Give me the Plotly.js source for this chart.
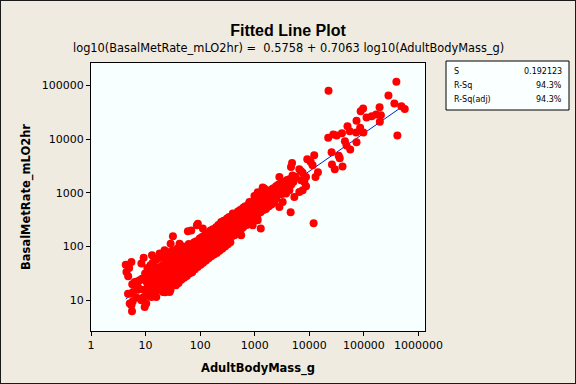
<!DOCTYPE html>
<html><head><meta charset="utf-8">
<script src="https://cdn.plot.ly/plotly-3.0.1.min.js"></script>
<style>
html,body{margin:0;padding:0;background:#F0EBE1;}
#wrap{position:relative;width:576px;height:384px;}
#frame{position:absolute;left:0;top:0;width:576px;height:384px;box-sizing:border-box;border:1px solid #1a1a1a;pointer-events:none;}
</style>
</head><body>
<div id="wrap"><div id="chart" style="width:576px;height:384px;"></div><div id="frame"></div></div>
<script>
// Adult body mass (g) and basal metabolic rate (mL O2 / hr)
const adultBodyMass_g = [
  394000, 22500, 282000, 362000, 487000, 561000, 194000, 97000, 87300, 73300,
  112000, 139000, 168000, 205000, 196000, 411000, 50100, 55000, 72300, 85500,
  98000, 22200, 27500, 31800, 39600, 45000, 48100, 73300, 56200, 25600,
  34600, 36100, 12300, 9180, 10600, 11500, 26000, 29300, 40600, 14400,
  13000, 4830, 4620, 6560, 7550, 8710, 4550, 12000, 1290, 918,
  8710, 7550, 6560, 2830, 3250, 3750, 7050, 5320, 1500, 1220,
  1730, 988, 800, 649, 2290, 3040, 3750, 2460, 3250, 2830,
  1130, 604, 745, 918, 1130, 396, 345, 457, 525, 243,
  260, 90.8, 68.7, 112, 31.7, 59.6, 171, 226, 425, 564,
  149, 112, 79, 4.33, 5.50, 4.46, 9.23, 8.38, 13.1, 15.7,
  87.1, 28.8, 42.0, 22.3, 18.1, 6.32, 7.26, 5.89, 4.77, 5.12,
  5.64, 27.6, 26.8, 8.38, 10.3, 9.63, 15.7, 13.7, 604, 800,
  1060, 396, 604, 149, 97.5, 64.0, 48.3, 7.80, 12.8, 11.9,
  15.7, 20.8, 11.1, 10.3, 5.50, 12.8, 1610, 4310, 8110, 1400,
  5.0, 4.8, 5.7, 5.5, 5.8, 7.0, 7.2, 6.9,
  8.6, 9.2, 8.9,
  9.8, 10.3, 9.9, 10.2,
  10.8, 11.6, 11.0, 11.5,
  12.3, 12.9, 12.5, 12.8,
  13.5, 14.6, 14.0, 14.8, 13.7,
  15.5, 16.2, 15.7, 16.0, 15.3,
  17.2, 18.5, 17.6, 18.2, 17.0,
  19.6, 20.5, 19.8, 20.3, 19.4,
  21.5, 23.2, 22.0, 23.0, 21.8, 22.8,
  24.6, 25.8, 24.9, 25.5, 24.4, 25.9,
  27.0, 29.1, 28.0, 29.5, 27.5, 28.6,
  31.0, 32.4, 31.3, 32.2, 30.8, 32.0,
  34.0, 36.8, 35.2, 37.0, 34.5, 36.0,
  39.0, 40.8, 39.5, 40.5, 38.8, 40.2,
  43.0, 46.5, 44.0, 46.0, 43.5, 45.2,
  49.0, 51.5, 49.7, 51.0, 48.8, 50.8,
  54.0, 58.5, 55.5, 57.8, 54.8, 57.0,
  62.0, 64.5, 62.6, 64.0, 61.5, 63.8,
  68.0, 73.5, 70.0, 72.8, 69.0, 71.5,
  78.0, 81.0, 78.8, 80.5, 77.6, 80.2,
  85.5, 92.5, 88.0, 91.5, 86.5, 90.0,
  98.0, 102, 99.0, 101, 97.5, 102,
  108, 116, 110, 115, 107, 113,
  123, 129, 125, 128, 122, 128,
  136, 147, 139, 145, 135, 143,
  155, 162, 157, 161, 154, 160,
  171, 185, 176, 183, 170, 180,
  196, 204, 198, 203, 195, 202,
  215, 233, 220, 230, 214, 226,
  246, 257, 249, 255, 244, 254,
  270, 294, 278, 290, 272, 286,
  310, 323, 313, 320, 307, 321,
  340, 370, 350, 365, 342, 358,
  390, 406, 394, 403, 388,
  430, 466, 440, 460, 450,
  492, 511, 497, 508, 489,
  540, 585, 555, 578, 560,
  618, 644, 626, 640, 615,
  680, 738, 700, 728, 710,
  778, 810, 788, 805, 775,
  855, 930, 880, 915, 890,
  980, 1020, 992, 1015, 975,
  1080, 1170, 1110, 1150, 1120,
  1235, 1285, 1250, 1280,
  1360, 1470, 1400, 1450,
  1555, 1615, 1575, 1605,
  1710, 1850, 1760, 1820,
  1955, 2035, 1985, 2025,
  2150, 2330, 2200, 2300,
  2460, 2560, 2500,
  2700, 2930, 2800,
  3100, 3220, 3150,
  3400, 3700, 3550,
  3900, 4060,
  4300, 4650,
  4920, 5100,
  5600, 7080
];
const basalMetRate_mLO2hr = [
  117000, 79600, 64300, 45700, 40600, 36200, 39000, 36900, 32800, 22000,
  25100, 26500, 28500, 27700, 21100, 11600, 17300, 13900, 13200, 16300,
  13200, 10600, 12200, 11600, 12800, 9080, 7550, 8710, 6370, 5670,
  4870, 4380, 4990, 4200, 3740, 3250, 3350, 2740, 3070, 2400,
  1970, 3580, 3020, 2740, 2350, 1970, 434, 271, 216, 249,
  1320, 1110, 1040, 1970, 1590, 1380, 1710, 836, 1200, 836,
  675, 871, 675, 545, 1200, 1110, 966, 780, 675, 545,
  1020, 472, 410, 355, 308, 410, 331, 286, 231, 286,
  249, 267, 200, 216, 155, 192, 187, 174, 162, 162,
  68.7, 51.6, 48.2, 46.1, 51.6, 33.6, 62.2, 48.2, 68.7, 59.7,
  249, 113, 113, 85.1, 73.9, 21.9, 17.7, 14.3, 13.3, 8.69,
  6.24, 14.3, 16.5, 10.0, 8.69, 7.50, 11.5, 12.4, 508, 630,
  675, 231, 267, 131, 98.2, 91.6, 68.7, 23.5, 21.9, 16.5,
  16.5, 14.3, 36.1, 29.2, 8.07, 11.5, 1040, 1110, 1590, 1250,
  40.0, 28.0, 20.0, 13.2, 9.55, 22.4, 15.8, 11.2,
  25.1, 15.8, 11.2,
  31.6, 22.4, 15.8, 12.0,
  39.8, 28.2, 20.0, 14.1,
  44.7, 33.1, 24.0, 16.6,
  50.1, 35.5, 25.1, 17.8, 13.2,
  56.2, 39.8, 28.2, 20.0, 15.1,
  60.3, 41.7, 30.2, 21.4, 15.8,
  63.1, 44.7, 31.6, 22.9, 16.6,
  70.8, 50.1, 35.5, 25.1, 17.8, 14.1,
  79.4, 60.3, 43.7, 31.6, 22.9, 17.8,
  75.9, 56.2, 41.7, 30.2, 21.4, 15.8,
  83.2, 63.1, 45.7, 33.1, 25.1, 19.1,
  83.2, 63.1, 47.9, 35.5, 26.3, 19.1,
  93.3, 70.8, 52.5, 38.0, 28.2, 20.9,
  89.1, 70.8, 55.0, 41.7, 31.6, 24.0,
  100, 75.9, 58.9, 44.7, 33.1, 26.3,
  95.5, 79.4, 63.1, 50.1, 38.0, 28.2,
  112, 85.1, 69.2, 53.7, 39.8, 31.6,
  105, 89.1, 75.9, 60.3, 47.9, 33.1,
  120, 95.5, 79.4, 63.1, 50.1, 38.0,
  126, 105, 89.1, 70.8, 56.2, 41.7,
  141, 112, 95.5, 75.9, 60.3, 45.7,
  151, 126, 105, 83.2, 66.1, 50.1,
  166, 135, 112, 91.2, 72.4, 55.0,
  178, 148, 120, 100, 79.4, 60.3,
  200, 158, 132, 105, 83.2, 66.1,
  209, 178, 141, 112, 89.1, 70.8,
  229, 186, 151, 120, 95.5, 75.9,
  251, 200, 166, 132, 105, 83.2,
  275, 219, 178, 145, 115, 91.2,
  302, 240, 200, 158, 126, 100,
  331, 263, 214, 174, 138, 110,
  355, 282, 234, 191, 151, 120,
  380, 302, 251, 200, 158,
  398, 331, 275, 224, 178,
  447, 363, 288, 240, 191,
  479, 398, 316, 263, 209,
  525, 417, 347, 282, 229,
  562, 447, 380, 302, 251,
  603, 501, 398, 331, 263,
  661, 525, 437, 355, 282,
  708, 575, 479, 380, 302,
  759, 631, 525, 417, 331,
  832, 661, 550, 437,
  891, 708, 603, 479,
  955, 759, 631, 501,
  1000, 832, 692, 562,
  1122, 912, 759, 603,
  1202, 1000, 832, 661,
  1318, 1047, 871,
  1413, 1122, 955,
  1514, 1202, 955,
  1585, 1318, 1047,
  1738, 1318,
  1778, 1413,
  2089, 1585,
  1995, 2512
];

// Fitted regression (from the subtitle)
const fitIntercept = 0.5758;
const fitSlope = 0.7063;

const xTickVals = [1, 10, 100, 1000, 10000, 100000, 1000000];
const xTickText = ['1', '10', '100', '1000', '10000', '100000', '1000000'];
const yTickVals = [10, 100, 1000, 10000, 100000];
const yTickText = ['10', '100', '1000', '10000', '100000'];

const statLabels = ['S', 'R-Sq', 'R-Sq(adj)'];
const statValues = ['0.192123', '94.3%', '94.3%'];

const titleText = 'Fitted Line Plot';
const subtitleText = 'log10(BasalMetRate_mLO2hr) =\u00A0 0.5758 + 0.7063 log10(AdultBodyMass_g)';
const xTitle = 'AdultBodyMass_g';
const yTitle = 'BasalMetRate_mLO2hr';

const xMin = Math.min(...adultBodyMass_g);
const xMax = Math.max(...adultBodyMass_g);
const fitX = [xMin, xMax];
const fitY = fitX.map(v => Math.pow(10, fitIntercept + fitSlope * Math.log10(v)));

const fitTrace = {
  x: fitX, y: fitY, type: 'scatter', mode: 'lines',
  line: {color: '#0022CC', width: 1}, hoverinfo: 'skip', showlegend: false
};
const pointTrace = {
  x: adultBodyMass_g, y: basalMetRate_mLO2hr, type: 'scatter', mode: 'markers',
  marker: {color: '#FF0000', size: 8, line: {width: 0}}, showlegend: false
};

// plot-area geometry helpers (paper coordinates)
const L = 91, R = 425, T = 63, B = 331;
const px = v => (v - L) / (R - L);
const py = v => (B - v) / (B - T);

const rowY = [71, 85, 99];
const annotations = [];
annotations.push({
  text: subtitleText, xref: 'paper', yref: 'paper', x: px(288), y: py(48.5),
  xanchor: 'center', yanchor: 'middle', showarrow: false,
  font: {family: 'DejaVu Sans', size: 11.4, color: '#000'}
});
statLabels.forEach((s, i) => {
  annotations.push({text: s, xref: 'paper', yref: 'paper', x: px(452), y: py(rowY[i]),
    xanchor: 'left', yanchor: 'middle', showarrow: false,
    font: {family: 'DejaVu Sans', size: 8, color: '#000'}});
  annotations.push({text: statValues[i], xref: 'paper', yref: 'paper', x: px(564), y: py(rowY[i]),
    xanchor: 'right', yanchor: 'middle', showarrow: false,
    font: {family: 'DejaVu Sans', size: 8, color: '#000'}});
});

const layout = {
  width: 576, height: 384,
  paper_bgcolor: '#F0EBE1', plot_bgcolor: '#F8FFFF',
  margin: {l: L, r: 576 - R, t: T, b: 384 - B, pad: 0},
  title: {
    text: '<b>' + titleText + '</b>', xref: 'container', x: 0.5, xanchor: 'center',
    yref: 'container', y: 1 - 30 / 384, yanchor: 'middle',
    font: {family: 'Liberation Sans', size: 16, color: '#000'}
  },
  xaxis: {
    type: 'log', range: [0, 6.12], tickvals: xTickVals, ticktext: xTickText,
    ticks: 'outside', ticklen: 4, tickcolor: '#000', tickwidth: 1,
    showline: true, linecolor: '#000', linewidth: 1, mirror: true,
    showgrid: false, zeroline: false,
    tickfont: {family: 'DejaVu Sans', size: 11, color: '#000'},
    title: {text: '<b>' + xTitle + '</b>', standoff: 12,
      font: {family: 'DejaVu Sans', size: 11.5, color: '#000'}}
  },
  yaxis: {
    type: 'log', range: [0.429, 5.415], tickvals: yTickVals, ticktext: yTickText,
    ticks: 'outside', ticklen: 4, tickcolor: '#000', tickwidth: 1,
    showline: true, linecolor: '#000', linewidth: 1, mirror: true,
    showgrid: false, zeroline: false,
    tickfont: {family: 'DejaVu Sans', size: 11, color: '#000'},
    title: {text: '<b>' + yTitle + '</b>', standoff: 8,
      font: {family: 'DejaVu Sans', size: 11.5, color: '#000'}}
  },
  shapes: [{
    type: 'rect', xref: 'paper', yref: 'paper', layer: 'below',
    x0: px(446), x1: px(569), y0: py(110), y1: py(61),
    line: {color: '#000', width: 1}, fillcolor: 'rgba(250,255,255,1)'
  }],
  annotations: annotations
};

Plotly.newPlot('chart', [fitTrace, pointTrace], layout, {displayModeBar: false, staticPlot: true});
</script>
</body></html>
